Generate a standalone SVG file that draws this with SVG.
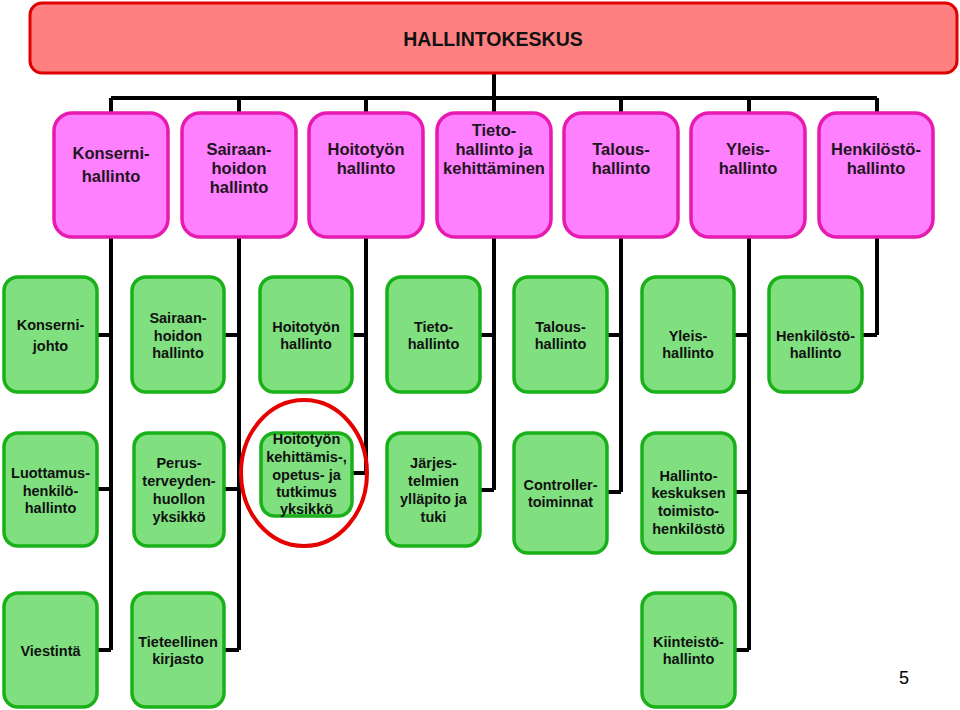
<svg xmlns="http://www.w3.org/2000/svg" width="960" height="710" viewBox="0 0 960 710">
<style>
.top{fill:#FF8080;stroke:#E00000;stroke-width:3}
.pink{fill:#FF80FF;stroke:#E619B0;stroke-width:3.5}
.green{fill:#80E080;stroke:#19B019;stroke-width:3.5}
.conn{fill:none;stroke:#000;stroke-width:4;stroke-linejoin:miter;stroke-linecap:butt}
text{font-family:"Liberation Sans",Arial,sans-serif;fill:#111;text-anchor:middle}
.tp{font-size:16.5px;font-weight:bold;fill:#221522}
.tg{font-size:14.5px;font-weight:bold}
.tt{font-size:19.5px;font-weight:bold}
</style>
<rect width="960" height="710" fill="#fff"/>
<g id="connectors" class="conn">
<path d="M494 73V98M111 98H877M111 98V113M239 98V113M366 98V113M494 98V113M621 98V113M749 98V113M877 98V113"/>
<path d="M111 237V650M239 237V650M366 237V473M494 237V490M621 237V492M749 237V650M877 237V335"/>
<path d="M97 335H111M224 335H239M352 335H366M480 335H494M607 335H621M734 335H749M862 335H877"/>
<path d="M97 489H111M224 489H239M352 473H366M480 490H494M607 492H621M735 492H749"/>
<path d="M97 650H111M224 650H239M735 650H749"/>
</g>
<g id="hallintokeskus"><rect class="top" x="30" y="3" width="927" height="70" rx="12"/><text class="tt" x="493" y="46">HALLINTOKESKUS</text></g>
<g id="p1"><rect class="pink" x="54" y="113" width="114" height="124" rx="18"/><text class="tp" x="111" y="159">Konserni-</text><text class="tp" x="111" y="182">hallinto</text></g>
<g id="p2"><rect class="pink" x="182" y="113" width="114" height="124" rx="18"/><text class="tp" x="239" y="155">Sairaan-</text><text class="tp" x="239" y="174">hoidon</text><text class="tp" x="239" y="193">hallinto</text></g>
<g id="p3"><rect class="pink" x="309" y="113" width="114" height="124" rx="18"/><text class="tp" x="366" y="155">Hoitotyön</text><text class="tp" x="366" y="174">hallinto</text></g>
<g id="p4"><rect class="pink" x="437" y="113" width="114" height="124" rx="18"/><text class="tp" x="494" y="136">Tieto-</text><text class="tp" x="494" y="155">hallinto ja</text><text class="tp" x="494" y="174">kehittäminen</text></g>
<g id="p5"><rect class="pink" x="564" y="113" width="114" height="124" rx="18"/><text class="tp" x="621" y="155">Talous-</text><text class="tp" x="621" y="174">hallinto</text></g>
<g id="p6"><rect class="pink" x="691" y="113" width="114" height="124" rx="18"/><text class="tp" x="748" y="155">Yleis-</text><text class="tp" x="748" y="174">hallinto</text></g>
<g id="p7"><rect class="pink" x="819" y="113" width="114" height="124" rx="18"/><text class="tp" x="876" y="155">Henkilöstö-</text><text class="tp" x="876" y="174">hallinto</text></g>
<g id="g1"><rect class="green" x="4" y="277" width="93" height="115" rx="14"/><text class="tg" x="50.5" y="330">Konserni-</text><text class="tg" x="50.5" y="351">johto</text></g>
<g id="g2"><rect class="green" x="132" y="277" width="92" height="115" rx="14"/><text class="tg" x="178" y="323">Sairaan-</text><text class="tg" x="178" y="341">hoidon</text><text class="tg" x="178" y="358">hallinto</text></g>
<g id="g3"><rect class="green" x="260" y="277" width="92" height="115" rx="14"/><text class="tg" x="306" y="332">Hoitotyön</text><text class="tg" x="306" y="349">hallinto</text></g>
<g id="g4"><rect class="green" x="387" y="277" width="93" height="115" rx="14"/><text class="tg" x="433.5" y="332">Tieto-</text><text class="tg" x="433.5" y="349">hallinto</text></g>
<g id="g5"><rect class="green" x="514" y="277" width="93" height="115" rx="14"/><text class="tg" x="560.5" y="332">Talous-</text><text class="tg" x="560.5" y="349">hallinto</text></g>
<g id="g6"><rect class="green" x="642" y="277" width="92" height="115" rx="14"/><text class="tg" x="688" y="341">Yleis-</text><text class="tg" x="688" y="358">hallinto</text></g>
<g id="g7"><rect class="green" x="769" y="277" width="93" height="115" rx="14"/><text class="tg" x="815.5" y="341">Henkilöstö-</text><text class="tg" x="815.5" y="358">hallinto</text></g>
<g id="g8"><rect class="green" x="4" y="433" width="93" height="113" rx="14"/><text class="tg" x="50.5" y="478">Luottamus-</text><text class="tg" x="50.5" y="496">henkilö-</text><text class="tg" x="50.5" y="513">hallinto</text></g>
<g id="g9"><rect class="green" x="134" y="433" width="90" height="113" rx="14"/><text class="tg" x="179" y="468">Perus-</text><text class="tg" x="179" y="486">terveyden-</text><text class="tg" x="179" y="504">huollon</text><text class="tg" x="179" y="522">yksikkö</text></g>
<g id="g10"><rect class="green" x="261" y="433" width="91" height="83" rx="14"/><text class="tg" x="306.5" y="444">Hoitotyön</text><text class="tg" x="306.5" y="462">kehittämis-,</text><text class="tg" x="306.5" y="480">opetus- ja</text><text class="tg" x="306.5" y="497">tutkimus</text><text class="tg" x="306.5" y="514">yksikkö</text></g>
<g id="g11"><rect class="green" x="387" y="433" width="93" height="113" rx="14"/><text class="tg" x="433.5" y="468">Järjes-</text><text class="tg" x="433.5" y="486">telmien</text><text class="tg" x="433.5" y="504">ylläpito ja</text><text class="tg" x="433.5" y="522">tuki</text></g>
<g id="g12"><rect class="green" x="514" y="433" width="93" height="120" rx="14"/><text class="tg" x="560.5" y="490">Controller-</text><text class="tg" x="560.5" y="507">toiminnat</text></g>
<g id="g13"><rect class="green" x="642" y="433" width="93" height="120" rx="14"/><text class="tg" x="688.5" y="481">Hallinto-</text><text class="tg" x="688.5" y="498">keskuksen</text><text class="tg" x="688.5" y="516">toimisto-</text><text class="tg" x="688.5" y="534">henkilöstö</text></g>
<g id="g14"><rect class="green" x="4" y="593" width="93" height="114" rx="14"/><text class="tg" x="50.5" y="656">Viestintä</text></g>
<g id="g15"><rect class="green" x="132" y="593" width="92" height="114" rx="14"/><text class="tg" x="178" y="647">Tieteellinen</text><text class="tg" x="178" y="664">kirjasto</text></g>
<g id="g16"><rect class="green" x="642" y="593" width="93" height="114" rx="14"/><text class="tg" x="688.5" y="647">Kiinteistö-</text><text class="tg" x="688.5" y="664">hallinto</text></g>
<ellipse id="highlight" cx="304" cy="473" rx="63" ry="73" fill="none" stroke="#E60000" stroke-width="4"/>
<text x="904" y="684" style="font-size:18px;fill:#000">5</text>
</svg>
